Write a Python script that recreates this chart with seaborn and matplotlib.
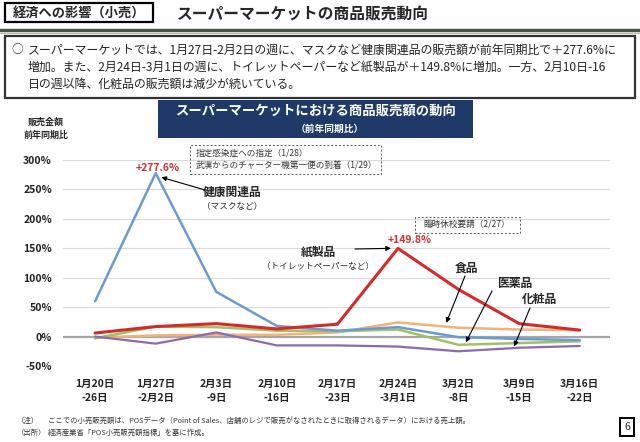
import matplotlib
matplotlib.use("Agg")
import matplotlib.pyplot as plt
import seaborn as sns
import pandas as pd
from matplotlib.patches import Rectangle
from matplotlib.lines import Line2D

# ---------------- data ----------------
weeks = ["1月20日\n-26日", "1月27日\n-2月2日", "2月3日\n-9日", "2月10日\n-16日",
         "2月17日\n-23日", "2月24日\n-3月1日", "3月2日\n-8日", "3月9日\n-15日", "3月16日\n-22日"]
health = [60, 277.6, 76, 18, 10, 16, -1, -4, -6]
paper = [6, 17, 22, 13, 21, 149.8, 80, 22, 11]
food = [-2, 2, 3, 3, 7, 24, 15, 12, 11]
medicine = [-3, 17, 16, 10, 9, 12, -14, -11, -8]
cosmetics = [0, -12, 7, -15, -15, -17, -25, -19, -16]
series_names = ["食品", "医薬品", "化粧品", "健康関連品", "紙製品"]
series_vals = [food, medicine, cosmetics, health, paper]
yticks = [-50, 0, 50, 100, 150, 200, 250, 300]

rows = []
for name, vals in zip(series_names, series_vals):
    for i, v in enumerate(vals):
        rows.append({"week": i, "value": v, "series": name})
df = pd.DataFrame(rows)

sns.set_theme(style="white")
plt.rcParams['font.family'] = ['Noto Sans CJK JP', 'DejaVu Sans']

W, H = 640, 442
fig = plt.figure(figsize=(6.4, 4.42), dpi=100)

def fx(x):
    return x / W

def fy(y):
    return 1 - y / H

# axes placement
ax_l, ax_r, ax_t, ax_b = 63, 610, 160, 366
ax = fig.add_axes([fx(ax_l), fy(ax_b), (ax_r - ax_l) / W, (ax_b - ax_t) / H])

palette = {"健康関連品": "#6B9BD1", "紙製品": "#D42A2A", "食品": "#F2B27A",
           "医薬品": "#A3BF64", "化粧品": "#8A6BB0"}
widths = {"健康関連品": 1.8, "紙製品": 2.2, "食品": 1.8, "医薬品": 1.8, "化粧品": 1.6}

# grid
for t in yticks:
    if t == 0:
        continue
    ax.axhline(t, color="#D9D9D9", lw=0.8, zorder=0)
ax.axhline(0, color="#A6A6A6", lw=1.6, zorder=1)

for name in series_names:
    sub = df[df["series"] == name]
    sns.lineplot(data=sub, x="week", y="value", color=palette[name],
                 lw=widths[name], ax=ax, legend=False, zorder=3)

ax.set_xlim(-0.53, 8.5)
ax.set_ylim(-50, 300)
ax.set_xticks(range(len(weeks)))
ax.set_xticklabels(weeks, fontsize=7.5, fontweight="bold", color="#222222", linespacing=1.5)
ax.set_yticks(yticks)
ax.set_yticklabels([f"{t}%" for t in yticks], fontsize=7.5, fontweight="bold", color="#222222")
ax.tick_params(axis="both", length=0, pad=8)
ax.tick_params(axis="x", pad=9)
ax.set_xlabel("")
ax.set_ylabel("")
for s in ax.spines.values():
    s.set_visible(False)
ax.patch.set_alpha(0)

# ---------------- header ----------------
fig.patches.append(Rectangle((fx(5), fy(22)), fx(148), 19 / H, transform=fig.transFigure,
                             fill=False, edgecolor="black", lw=1.6))
fig.text(fx(79), fy(12.5), "経済への影響（小売）", fontsize=9.5, fontweight="bold",
         ha="center", va="center")
fig.text(fx(177), fy(14), "スーパーマーケットの商品販売動向", fontsize=11.3, fontweight="bold",
         ha="left", va="center")
fig.lines.append(Line2D([fx(0), fx(640)], [fy(30), fy(30)], transform=fig.transFigure,
                        color="#4A5642", lw=2.5))
fig.lines.append(Line2D([fx(0), fx(640)], [fy(32.5), fy(32.5)], transform=fig.transFigure,
                        color="#B8BDB0", lw=0.8))

# summary box
fig.patches.append(Rectangle((fx(5), fy(98)), fx(630), 62 / H, transform=fig.transFigure,
                             fill=False, edgecolor="#333333", lw=1.6))
fig.text(fx(11), fy(50), "○", fontsize=8.5, ha="left", va="center", color="#333333")
summary = ["スーパーマーケットでは、1月27日-2月2日の週に、マスクなど健康関連品の販売額が前年同期比で＋277.6%に",
           "増加。また、2月24日-3月1日の週に、トイレットペーパーなど紙製品が＋149.8%に増加。一方、2月10日-16",
           "日の週以降、化粧品の販売額は減少が続いている。"]
for i, line in enumerate(summary):
    fig.text(fx(28), fy(50 + 17 * i), line, fontsize=8.6, ha="left", va="center", color="#222222")

# navy banner
fig.patches.append(Rectangle((fx(158), fy(138)), fx(315), 38 / H, transform=fig.transFigure,
                             facecolor="#1F3A68", edgecolor="none"))
fig.text(fx(316), fy(111), "スーパーマーケットにおける商品販売額の動向", fontsize=9.6,
         fontweight="bold", color="white", ha="center", va="center")
fig.text(fx(330), fy(129), "（前年同期比）", fontsize=7, fontweight="bold", color="white",
         ha="center", va="center")

# y label
fig.text(fx(46), fy(122), "販売金額", fontsize=6.5, fontweight="bold", ha="center", va="center")
fig.text(fx(46), fy(135), "前年同期比", fontsize=6.5, fontweight="bold", ha="center", va="center")

# dashed event boxes
fig.patches.append(Rectangle((fx(190), fy(174)), fx(191), 29 / H, transform=fig.transFigure,
                             fill=False, edgecolor="#555555", lw=0.7, linestyle=(0, (2, 2))))
fig.text(fx(196), fy(153), "指定感染症への指定（1/28）", fontsize=6.2, color="#333333",
         ha="left", va="center")
fig.text(fx(196), fy(166), "武漢からのチャーター機第一便の到着（1/29）", fontsize=6.2,
         color="#333333", ha="left", va="center")

fig.patches.append(Rectangle((fx(415), fy(233)), fx(105), 16 / H, transform=fig.transFigure,
                             fill=False, edgecolor="#555555", lw=0.7, linestyle=(0, (2, 2))))
fig.text(fx(467), fy(225), "臨時休校要請（2/27）", fontsize=6.2, color="#333333",
         ha="center", va="center")

# peak labels
fig.text(fx(158), fy(168), "+277.6%", fontsize=7.5, fontweight="bold", color="#D03030",
         ha="center", va="center")
fig.text(fx(410), fy(240), "+149.8%", fontsize=7.5, fontweight="bold", color="#D03030",
         ha="center", va="center")

# series labels with arrows
arrowprops = dict(arrowstyle="-|>", color="black", lw=0.8, mutation_scale=7,
                  shrinkA=0, shrinkB=2)
ax.annotate("", xy=(1.05, 272), xycoords="data", xytext=(fx(205), fy(190)),
            textcoords="figure fraction", arrowprops=arrowprops)
fig.text(fx(232), fy(192), "健康関連品", fontsize=8.5, fontweight="bold", ha="center", va="center")
fig.text(fx(232), fy(206), "（マスクなど）", fontsize=6.2, ha="center", va="center")

ax.annotate("", xy=(4.93, 150), xycoords="data", xytext=(fx(355), fy(249)),
            textcoords="figure fraction", arrowprops=arrowprops)
fig.text(fx(318), fy(252), "紙製品", fontsize=8.5, fontweight="bold", ha="center", va="center")
fig.text(fx(318), fy(266), "（トイレットペーパーなど）", fontsize=6.2, ha="center", va="center")

fig.text(fx(466), fy(268), "食品", fontsize=8.5, fontweight="bold", ha="center", va="center")
ax.annotate("", xy=(5.78, 19), xycoords="data", xytext=(fx(465), fy(276)),
            textcoords="figure fraction", arrowprops=arrowprops)
fig.text(fx(515), fy(283), "医薬品", fontsize=8.5, fontweight="bold", ha="center", va="center")
ax.annotate("", xy=(6.1, -14), xycoords="data", xytext=(fx(492), fy(291)),
            textcoords="figure fraction", arrowprops=arrowprops)
fig.text(fx(540), fy(299), "化粧品", fontsize=8.5, fontweight="bold", ha="center", va="center")
ax.annotate("", xy=(6.9, -21), xycoords="data", xytext=(fx(530), fy(308)),
            textcoords="figure fraction", arrowprops=arrowprops)

# footnotes
fig.text(fx(17), fy(421), "（注）", fontsize=5.3, color="#333333", ha="left", va="center")
fig.text(fx(48), fy(421), "ここでの小売販売額は、POSデータ（Point of Sales、店舗のレジで販売がなされたときに取得されるデータ）における売上額。",
         fontsize=5.3, color="#333333", ha="left", va="center")
fig.text(fx(17), fy(433), "（出所）", fontsize=5.3, color="#333333", ha="left", va="center")
fig.text(fx(48), fy(433), "経済産業省「POS小売販売額指標」を基に作成。", fontsize=5.3,
         color="#333333", ha="left", va="center")

# page number
fig.patches.append(Rectangle((fx(620), fy(436)), fx(14), 18 / H, transform=fig.transFigure,
                             fill=False, edgecolor="black", lw=1.4))
fig.text(fx(627), fy(427), "6", fontsize=7.5, ha="center", va="center")

fig.savefig("out.png", dpi=100)
